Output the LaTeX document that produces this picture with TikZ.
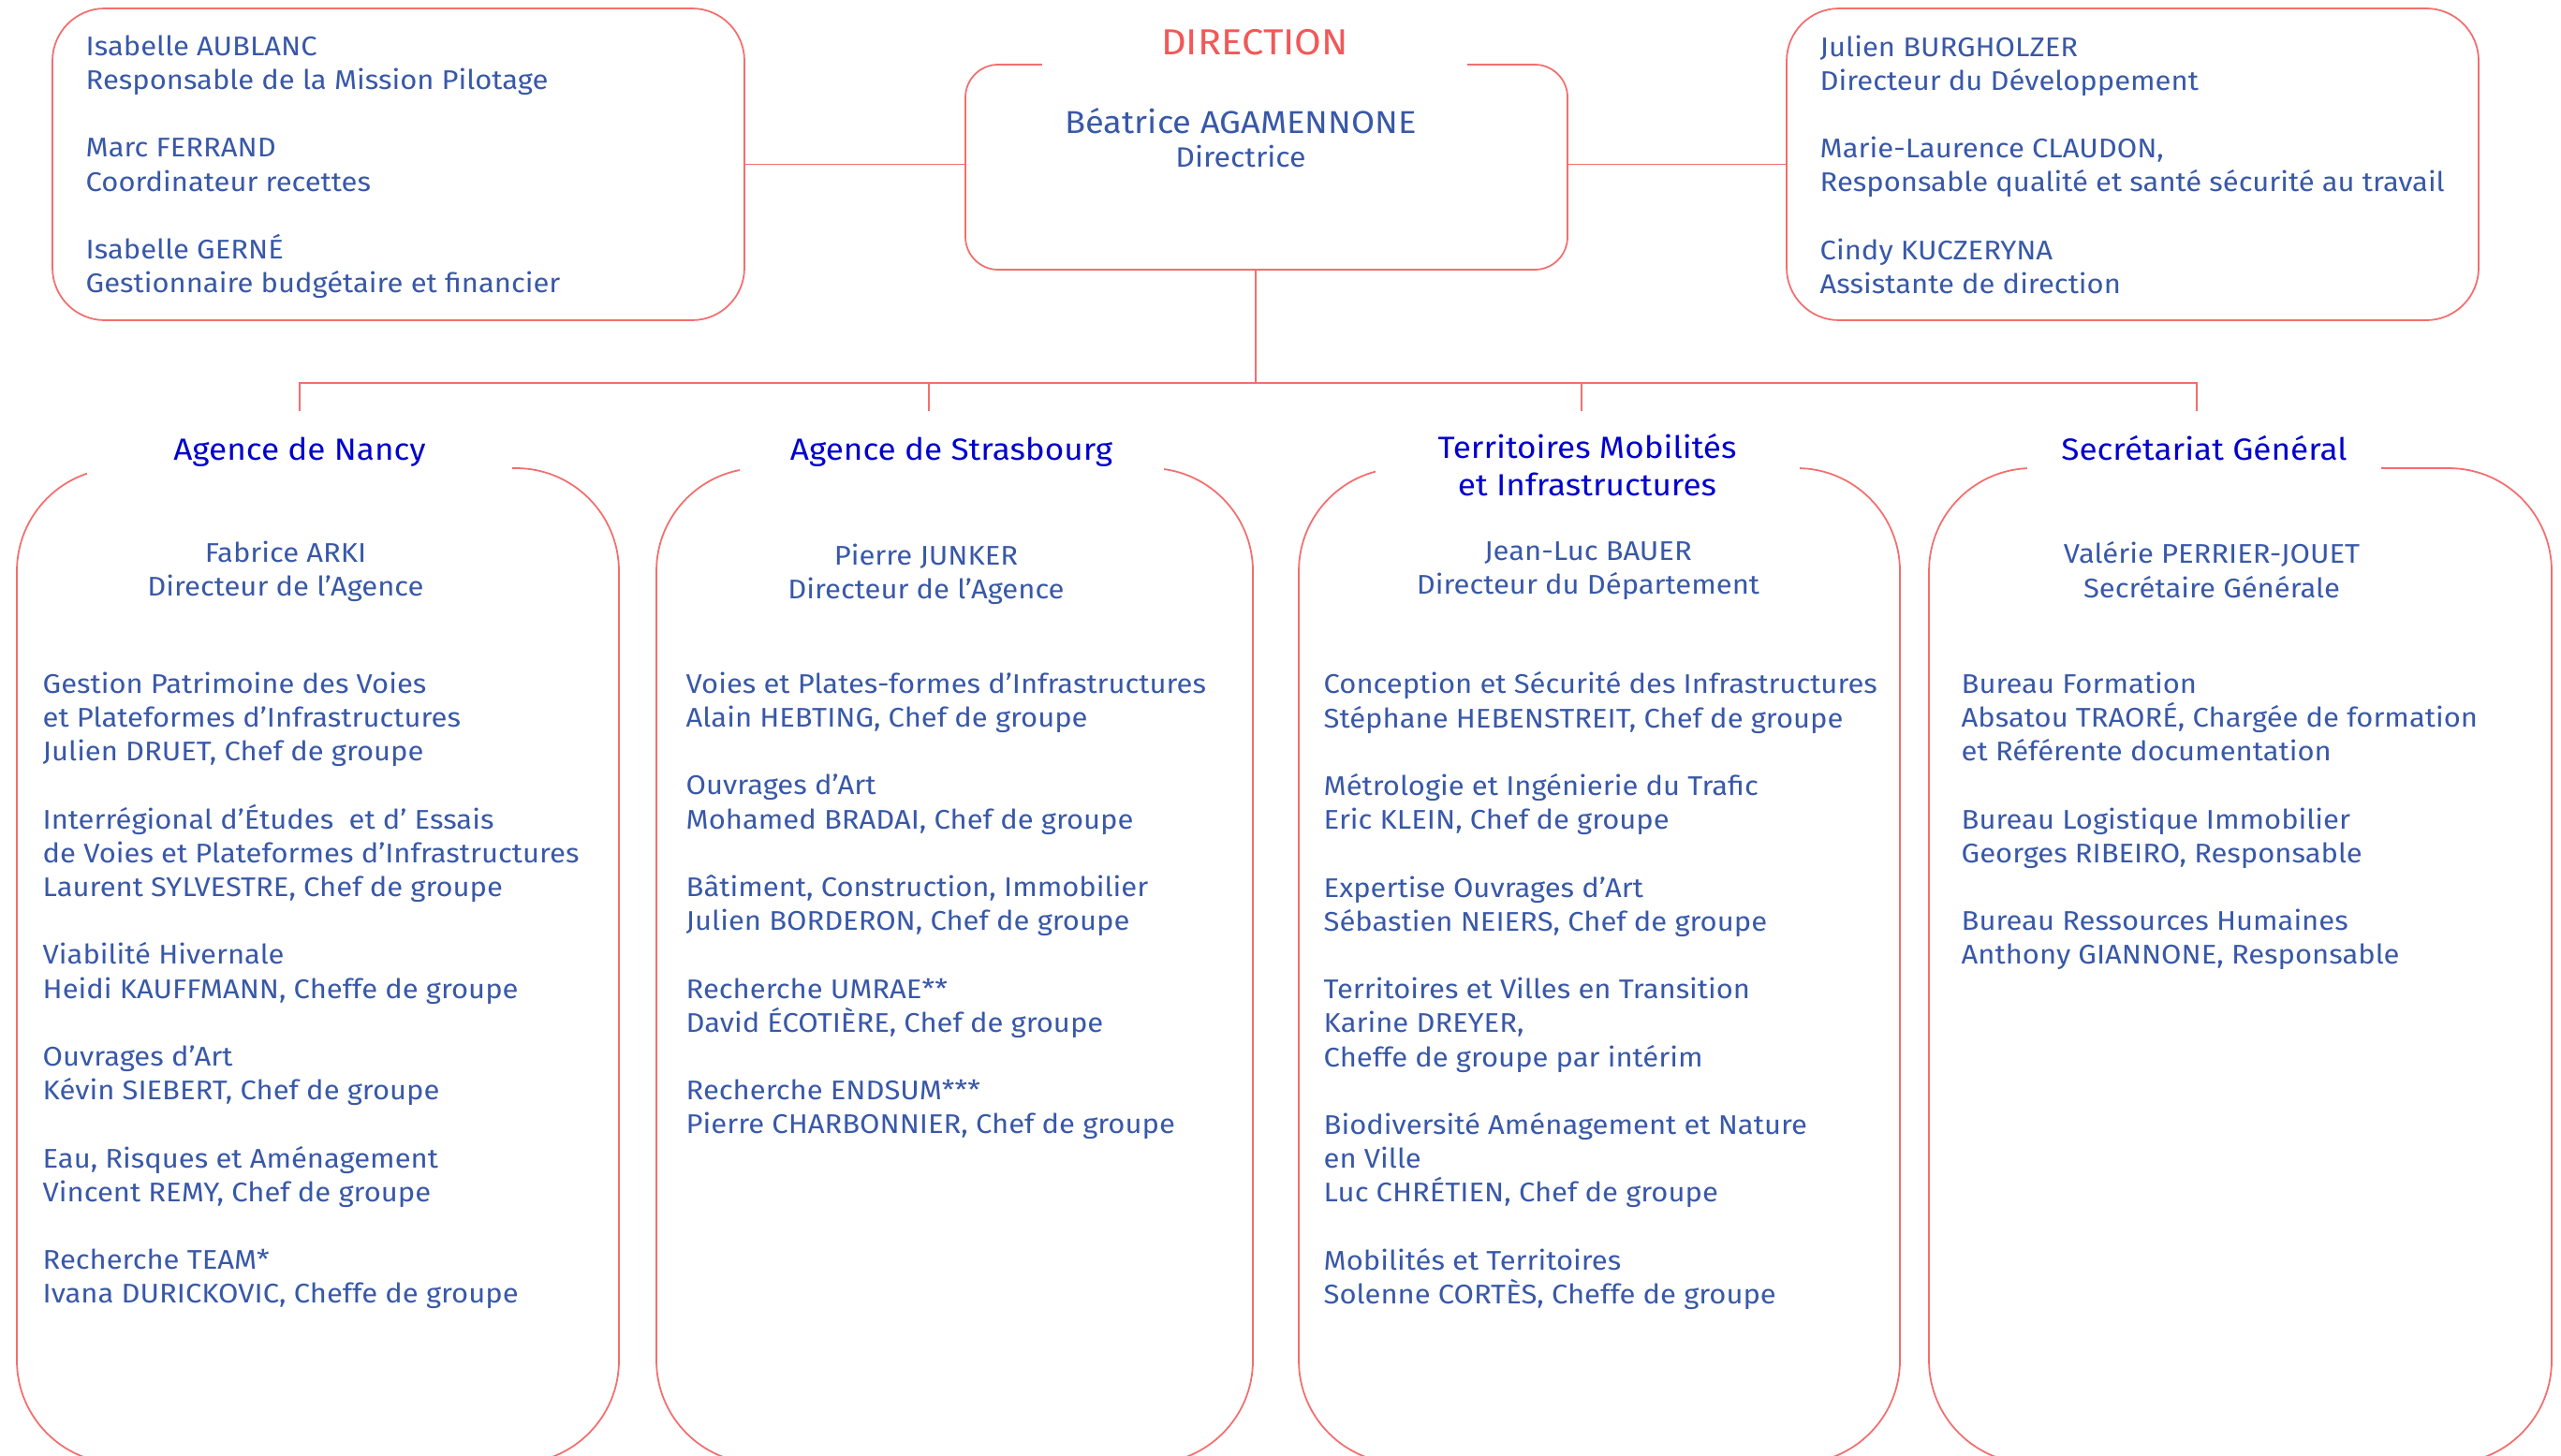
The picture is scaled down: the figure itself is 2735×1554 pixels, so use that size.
\documentclass[tikz,border=0pt]{standalone}
\usepackage{fontspec}
\setmainfont[FakeStretch=1.075]{Fira Sans}
\definecolor{linered}{RGB}{243,110,110}
\definecolor{dirred}{RGB}{242,88,88}
\definecolor{textblue}{RGB}{56,88,168}
\definecolor{headblue}{RGB}{0,0,205}
\newcommand{\blankrow}{\\[10.3pt]}
\tikzset{
  frame/.style={draw=linered, line width=0.5pt, inner sep=0pt},
  link/.style={draw=linered, line width=0.5pt},
  txt/.style={text=textblue, align=left, anchor=north west, inner sep=0pt,
    execute at begin node=\strut},
  boss/.style={text=textblue, align=center, anchor=north, inner sep=0pt,
    execute at begin node=\strut},
  head/.style={text=headblue, fill=white, align=center, anchor=north,
    inner xsep=0pt, inner ysep=1.5mm, font=\fontsize{9.3}{11.4}\selectfont,
    execute at begin node=\strut},
}
\begin{document}
\begin{tikzpicture}[x=0.1mm, y=-0.1mm, font=\fontsize{8.2}{10.3}\selectfont]
\useasboundingbox (0,0) rectangle (2735,1554);
\clip (0,0) rectangle (2735,1554);

% frames
\node[frame, rounded corners=5.6mm, minimum width=73.9mm, minimum height=33.3mm] (pilot) at (425.5,175.5) {};
\node[frame, rounded corners=3.5mm, minimum width=64.3mm, minimum height=21.9mm] (dir) at (1352.5,178.5) {};
\node[frame, rounded corners=5.6mm, minimum width=73.9mm, minimum height=33.3mm] (dev) at (2277.5,175.5) {};
\node[frame, rounded corners=11mm, minimum width=64.3mm, minimum height=106.3mm] (nancy) at (339.5,1031.5) {};
\node[frame, rounded corners=11mm, minimum width=63.7mm, minimum height=106.3mm] (stras) at (1019.5,1031.5) {};
\node[frame, rounded corners=11mm, minimum width=64.2mm, minimum height=106.3mm] (tmi) at (1708,1031.5) {};
\node[frame, rounded corners=11mm, minimum width=66.5mm, minimum height=106.3mm] (sg) at (2392.5,1031.5) {};

% connectors
\coordinate (hub) at (1341,409);
\coordinate (tN) at (320,439);
\coordinate (tS) at (992,439);
\coordinate (tT) at (1689,439);
\coordinate (tG) at (2346,439);
\draw[link] (pilot.east) -- (pilot.east -| dir.west);
\draw[link] (dev.west) -- (dev.west -| dir.east);
\draw[link] (hub |- dir.south) -- (hub);
\draw[link] (tN) |- (hub);
\draw[link] (tG) |- (hub);
\draw[link] (tS) -- (tS |- hub);
\draw[link] (tT) -- (tT |- hub);

% titles
\node[text=dirred, fill=white, anchor=base, inner xsep=0pt, inner ysep=2mm,
  minimum width=45.4mm, font=\fontsize{11}{12}\selectfont] (dirlab) at (1340,58) {DIRECTION};
\node[head, minimum width=45.4mm] (hN) at (320,448) {Agence de Nancy};
\node[head, minimum width=45.3mm] (hS) at (1016,448) {Agence de Strasbourg};
\node[head, minimum width=45.3mm] (hT) at (1695,448) {Territoires Mobilités\\et Infrastructures};
\node[head, minimum width=37.8mm] (hG) at (2354,448) {Secrétariat Général};

% top row
\node[txt] (pilotxt) at (91,37) {Isabelle AUBLANC\\Responsable de la Mission Pilotage\blankrow
Marc FERRAND\\Coordinateur recettes\blankrow
Isabelle GERNÉ\\Gestionnaire budgétaire et financier};
\node[boss] (dirtxt) at (1325,115) {{\fontsize{9.6}{10.3}\selectfont Béatrice AGAMENNONE}\\{\fontsize{8.5}{10.3}\selectfont Directrice}};
\node[txt] (devtxt) at (1943,37) {Julien BURGHOLZER\\Directeur du Développement\blankrow
Marie-Laurence CLAUDON,\\Responsable qualité et santé sécurité au travail\blankrow
Cindy KUCZERYNA\\Assistante de direction};

% heads of the four columns
\node[boss] (bN) at (305,577) {Fabrice ARKI\\Directeur de l’Agence};
\node[boss] (bS) at (989,580) {Pierre JUNKER\\Directeur de l’Agence};
\node[boss] (bT) at (1696,578) {Jean-Luc BAUER\\Directeur du Département};
\node[boss] (bG) at (2362,578) {Valérie PERRIER-JOUET\\Secrétaire Générale};

% groups
\node[txt] (gN) at (45,717) {Gestion Patrimoine des Voies\\et Plateformes d’Infrastructures\\Julien DRUET, Chef de groupe\blankrow
Interrégional d’Études~ et d’ Essais\\de Voies et Plateformes d’Infrastructures\\Laurent SYLVESTRE, Chef de groupe\blankrow
Viabilité Hivernale\\Heidi KAUFFMANN, Cheffe de groupe\blankrow
Ouvrages d’Art\\Kévin SIEBERT, Chef de groupe\blankrow
Eau, Risques et Aménagement\\Vincent REMY, Chef de groupe\blankrow
Recherche TEAM*\\Ivana DURICKOVIC, Cheffe de groupe};
\node[txt] (gS) at (732,717) {Voies et Plates-formes d’Infrastructures\\Alain HEBTING, Chef de groupe\blankrow
Ouvrages d’Art\\Mohamed BRADAI, Chef de groupe\blankrow
Bâtiment, Construction, Immobilier\\Julien BORDERON, Chef de groupe\blankrow
Recherche UMRAE**\\David ÉCOTIÈRE, Chef de groupe\blankrow
Recherche ENDSUM***\\Pierre CHARBONNIER, Chef de groupe};
\node[txt] (gT) at (1413,717) {Conception et Sécurité des Infrastructures\\Stéphane HEBENSTREIT, Chef de groupe\blankrow
Métrologie et Ingénierie du Trafic\\Eric KLEIN, Chef de groupe\blankrow
Expertise Ouvrages d’Art\\Sébastien NEIERS, Chef de groupe\blankrow
Territoires et Villes en Transition\\Karine DREYER,\\Cheffe de groupe par intérim\blankrow
Biodiversité Aménagement et Nature\\en Ville\\Luc CHRÉTIEN, Chef de groupe\blankrow
Mobilités et Territoires\\Solenne CORTÈS, Cheffe de groupe};
\node[txt] (gG) at (2094,717) {Bureau Formation\\Absatou TRAORÉ, Chargée de formation\\et Référente documentation\blankrow
Bureau Logistique Immobilier\\Georges RIBEIRO, Responsable\blankrow
Bureau Ressources Humaines\\Anthony GIANNONE, Responsable};
\end{tikzpicture}
\end{document}
